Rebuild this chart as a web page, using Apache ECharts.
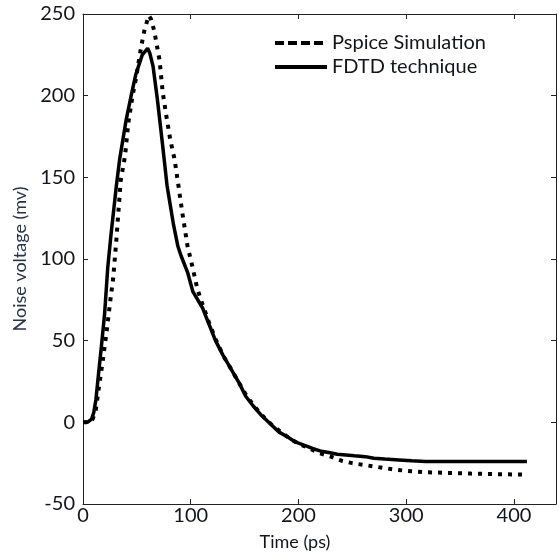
<!DOCTYPE html>
<html>
<head>
<meta charset="utf-8">
<script src="https://cdn.jsdelivr.net/npm/echarts@6/dist/echarts.min.js"></script>
<style>
html,body{margin:0;padding:0;background:#fff;}
#main{width:559px;height:556px;}
</style>
</head>
<body>
<div id="main"></div>
<script>
// FDTD technique (solid)
var fdtdTime=[0,4,8,10,12,14,17,20,23,26,31,34,40,45,49,55,60,62,65,69,74,78,81,84,88,91,97,102,111,117,123,130,138,145,151,158,166,174,182,190,197,205,213,220,228,236,244,252,262,270,280,293,305,318,330,350,370,390,412];
var fdtdVolt=[0,0,2,6,14,27,46,66,95,115,145,161,185,201,213,225,229,226,218,198,169,145,133,121,108,102,92,80,70,60,50,41,32,24,16,10,4,-1,-6,-9,-12,-14,-16,-17.5,-18.5,-19.5,-20,-20.5,-21,-22,-22.5,-23,-23.5,-24,-24,-24,-24,-24,-24];
// Pspice Simulation (dotted)
var pspiceTime=[0,5,9,12,14,18,22,26,28,31,35,39,42,46,49,54,57,61,63,66,71,74,77,81,85,89,92,97,102,106,111,117,123,130,138,145,152,160,168,176,184,192,200,210,220,230,240,250,260,270,280,290,305,320,340,360,380,408];
var pspiceVolt=[0,0,2,8,18,36,56,78,88,112,148,163,183,200,210,230,240,249,247,240,222,202,189,173,161,143,129,108,94,82,72,61,51,41,32,24,16,9,3,-2,-6,-10,-13,-16,-19,-21,-23.5,-25,-26,-27,-28,-29,-30,-30.6,-31,-31.4,-31.7,-32];
var xTicks=[0,100,200,300,400];
var yTicks=[-50,0,50,100,150,200,250];

function pairs(xs,ys){
    var out=[];
    for(var i=0;i<xs.length;i++){ out.push([xs[i],ys[i]]); }
    return out;
}

var font='Lato';
var txt='#14141e';
var lineCol='#222';

function xAx(pos,show){
    return {
        type:'value', position:pos, min:0, max:439, interval:100,
        axisLine:{show:true,onZero:false,lineStyle:{color:lineCol,width:1}},
        axisTick:{show:true,inside:true,length:5,lineStyle:{color:lineCol}},
        axisLabel:{show:show,margin:2,fontFamily:font,fontSize:20,color:txt,
            formatter:function(v){ return xTicks.indexOf(v)>=0?String(v):''; }},
        splitLine:{show:false}
    };
}
function yAx(pos,show){
    return {
        type:'value', position:pos, min:-50, max:250, interval:50,
        axisLine:{show:true,onZero:false,lineStyle:{color:lineCol,width:1}},
        axisTick:{show:true,inside:true,length:5,lineStyle:{color:lineCol}},
        axisLabel:{show:show,margin:8,fontFamily:font,fontSize:20,color:txt,
            formatter:function(v){ return yTicks.indexOf(v)>=0?String(v):''; }},
        splitLine:{show:false}
    };
}

var myChart=echarts.init(document.getElementById('main'));
var bx=xAx('bottom',true);
bx.name='Time (ps)';
bx.nameLocation='middle';
bx.nameGap=29;
bx.nameTextStyle={fontFamily:font,fontSize:18,color:txt,padding:[0,49,0,0]};
var ly=yAx('left',true);
ly.name='Noise voltage (mv)';
ly.nameLocation='middle';
ly.nameGap=44;
ly.nameTextStyle={fontFamily:font,fontSize:18,color:'#26334a'};

var option={
    animation:false,
    backgroundColor:'#fff',
    grid:{left:83,top:14,right:1,bottom:48,containLabel:false},
    legend:{
        orient:'vertical', left:268, top:28, itemWidth:52, itemHeight:20, itemGap:4,
        textStyle:{fontFamily:font,fontSize:20,color:txt,lineHeight:20},
        data:[
            {name:'Pspice Simulation',itemStyle:{opacity:0},lineStyle:{type:[9,4],width:4,color:'#000',opacity:1}},
            {name:'FDTD technique',itemStyle:{opacity:0},lineStyle:{type:'solid',width:4,color:'#000',opacity:1}}
        ]
    },
    xAxis:[bx,xAx('top',false)],
    yAxis:[ly,yAx('right',false)],
    series:[
        {
            name:'Pspice Simulation', type:'line', xAxisIndex:0, yAxisIndex:0,
            data:pairs(pspiceTime,pspiceVolt), symbol:'none', smooth:false,
            lineStyle:{color:'#000',width:4,type:[4,6],cap:'butt'},
            itemStyle:{color:'#000'}
        },
        {
            name:'FDTD technique', type:'line', xAxisIndex:0, yAxisIndex:0,
            data:pairs(fdtdTime,fdtdVolt), symbol:'none', smooth:false,
            lineStyle:{color:'#000',width:3.5,type:'solid'},
            itemStyle:{color:'#000'}
        }
    ]
};
myChart.setOption(option);
</script>
</body>
</html>
